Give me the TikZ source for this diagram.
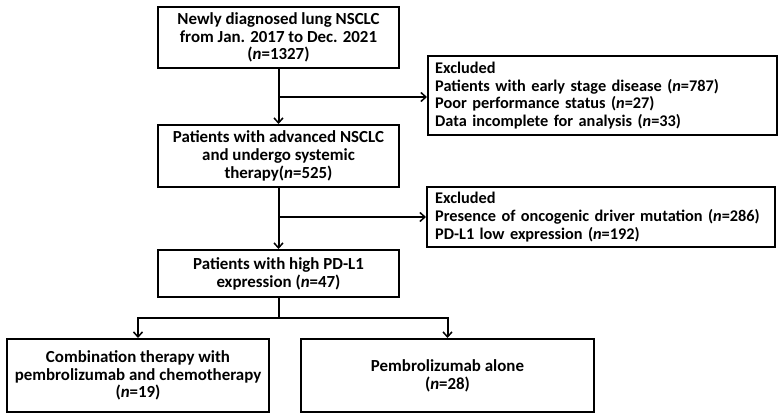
\documentclass[tikz,border=0pt]{standalone}
\usepackage{fontspec}
\setmainfont{Carlito}
\usetikzlibrary{arrows.meta}
\newcommand{\nn}{\textit{n}}
\begin{document}
\begin{tikzpicture}[x=1pt,y=-1pt,
  box/.style={draw, line width=2pt, inner sep=0pt, font=\fontsize{16.9}{17.8}\selectfont\bfseries, align=center},
  lbox/.style={draw=none, inner sep=0pt, font=\fontsize{16.3}{17.8}\selectfont\bfseries, align=left, text width=#1},
  conn/.style={line width=2pt},
  arr/.style={conn, -{Straight Barb[length=5pt,width=9pt,line width=1.5pt]}}]
\useasboundingbox (0,0) rectangle (781,418);
\node[box, minimum width=241pt, minimum height=61pt] (b1) at (278.5,37.5)
  {Newly diagnosed lung NSCLC\\from Jan. 2017 to Dec. 2021\\(\nn=1327)};
\node[box, minimum width=349pt, minimum height=79pt] (b2) at (602.5,95.5) {};
\node[lbox=338pt, anchor=west] (t2) at (435,95.5)
  {Excluded\\Patients with early stage disease (\nn=787)\\Poor performance status (\nn=27)\\Data incomplete for analysis (\nn=33)};
\node[box, minimum width=241pt, minimum height=62pt] (b3) at (278.5,156)
  {Patients with advanced NSCLC\\and undergo systemic\\therapy(\nn=525)};
\node[box, minimum width=348pt, minimum height=60pt] (b4) at (601,217) {};
\node[lbox=338pt, anchor=west] (t4) at (435,217)
  {Excluded\\Presence of oncogenic driver mutation (\nn=286)\\PD-L1 low expression (\nn=192)};
\node[box, minimum width=241pt, minimum height=47pt] (b5) at (278.5,273.5)
  {Patients with high PD-L1\\expression (\nn=47)};
\node[box, minimum width=262pt, minimum height=73pt] (b6) at (138,375.5)
  {Combination therapy with\\pembrolizumab and chemotherapy\\(\nn=19)};
\node[box, minimum width=293pt, minimum height=73pt] (b7) at (447.5,375.5)
  {Pembrolizumab alone\\(\nn=28)};
\coordinate (j1) at (278.5,97);
\coordinate (j2) at (278.5,217);
\coordinate (j3) at (278.5,318);
\draw[arr] (b1.south) -- (b3.north);
\draw[arr] (j1) -- (j1 -| b2.west);
\draw[arr] (b3.south) -- (b5.north);
\draw[arr] (j2) -- (j2 -| b4.west);
\draw[conn] (b5.south) -- (j3);
\draw[arr] (j3) -| (b6.north);
\draw[arr] (j3) -| (b7.north);
\end{tikzpicture}
\end{document}
